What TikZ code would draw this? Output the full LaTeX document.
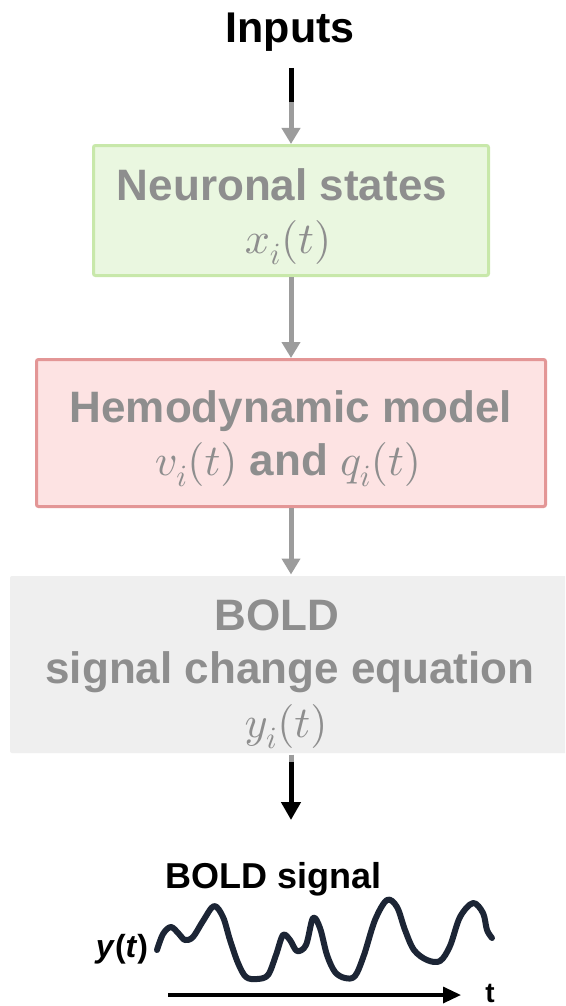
\documentclass[tikz,border=0pt]{standalone}
\usepackage[no-math]{fontspec}
\setmainfont{Liberation Sans}
\DeclareFontShape{OML}{cmm}{m}{it}{<->cmmi10}{}
\DeclareFontShape{OT1}{cmr}{m}{n}{<->cmr10}{}
\usetikzlibrary{arrows.meta}
\definecolor{gfill}{HTML}{EAF7E0}
\definecolor{gline}{HTML}{C8E8AA}
\definecolor{rfill}{HTML}{FDE3E3}
\definecolor{rline}{HTML}{E39696}
\definecolor{bfill}{HTML}{EFEFEF}
\definecolor{txtgray}{HTML}{8E8E8E}
\definecolor{arrgray}{HTML}{9C9C9C}
\definecolor{wavecol}{HTML}{1C2535}
\newcommand\fsA{\fontsize{44}{53}\selectfont}
\begin{document}
\begin{tikzpicture}[x=1pt,y=-1pt,
  stagebox/.style={line width=3pt, rounded corners=2pt, inner sep=0pt},
  boxtext/.style={text=txtgray, font=\fsA\bfseries, anchor=base, inner sep=0pt},
  grayarrow/.style={draw=arrgray, line width=5pt, -{Triangle[width=18pt,length=16pt]}},
  grayline/.style={draw=arrgray, line width=5pt},
  blackline/.style={draw=black, line width=5pt},
  blackarrow/.style={draw=black, line width=5pt, -{Triangle[width=19pt,length=18pt]}},
  plain/.style={text=black, font=\bfseries, anchor=base, inner sep=0pt}]
\clip (0,0) rectangle (565,1006);
\fill[white] (0,0) rectangle (565,1006);

% boxes
\node[stagebox, draw=gline, fill=gfill, minimum width=395pt, minimum height=130pt] (green) at (291,210.5) {};
\node[stagebox, draw=rline, fill=rfill, minimum width=509pt, minimum height=147pt] (red) at (291,433) {};
\node[stagebox, draw=none, fill=bfill, minimum width=562pt, minimum height=177pt] (grayb) at (291,664.5) {};

% texts
\node[plain, font=\fontsize{43}{50}\selectfont\bfseries] (inputs) at (290,43) {Inputs};
\node[boxtext] (n1) at (282,200) {Neuronal states};
\node[boxtext] (n2) at (288,253) {$x_i(t)$};
\node[boxtext] (h1) at (291,422) {Hemodynamic model};
\node[boxtext] (h2) at (288,475) {$v_i(t)$ and $q_i(t)$};
\node[boxtext] (b1) at (277,630) {BOLD};
\node[boxtext] (b2) at (290,683) {signal change equation};
\node[boxtext] (b3) at (286,737) {$y_i(t)$};
\node[plain, font=\fontsize{36}{42}\selectfont\bfseries] (sig) at (274,888) {BOLD signal};
\node[plain, font=\fontsize{32}{38}\selectfont\bfseries] (yt) at (122,957) {\textit{y}(\textit{t})};
\node[plain, font=\fontsize{28}{34}\selectfont\bfseries] (tl) at (490,1002) {t};

% connectors
\coordinate (in0) at (291,68);
\coordinate (in1) at (291,102);
\draw[blackline] (in0) -- (in1);
\draw[grayarrow] (in1) -- (green.north);
\draw[grayarrow] (green.south) -- (red.north);
\draw[grayarrow] (red.south) -- (grayb.north);
\coordinate (o1) at (291,762);
\coordinate (o2) at (291,820);
\draw[grayline] (grayb.south) -- (o1);
\draw[blackarrow] (o1) -- (o2);

% time axis
\coordinate (a0) at (168,995);
\coordinate (a1) at (461,995);
\draw[line width=3.3pt, -{Triangle[width=16pt,length=18pt]}] (a0) -- (a1);

% BOLD wave
\draw[wavecol, line width=6pt, line cap=round, line join=round]
  plot[smooth, tension=0.55] coordinates {
  (157,950) (163,934) (171,927) (179,934) (185,940) (193,937) (203,921) (214,906)
  (223,917) (230,940) (238,963) (246,977) (257,979) (268,975) (276,955) (283,935)
  (290,940) (297,951) (306,945) (313,918) (320,928) (327,955) (335,972) (345,978)
  (355,976) (364,955) (375,920) (387,900) (397,907) (405,930) (414,950) (427,960)
  (440,961) (450,946) (460,917) (473,903) (483,913) (487,930) (492,938)};
\end{tikzpicture}
\end{document}
